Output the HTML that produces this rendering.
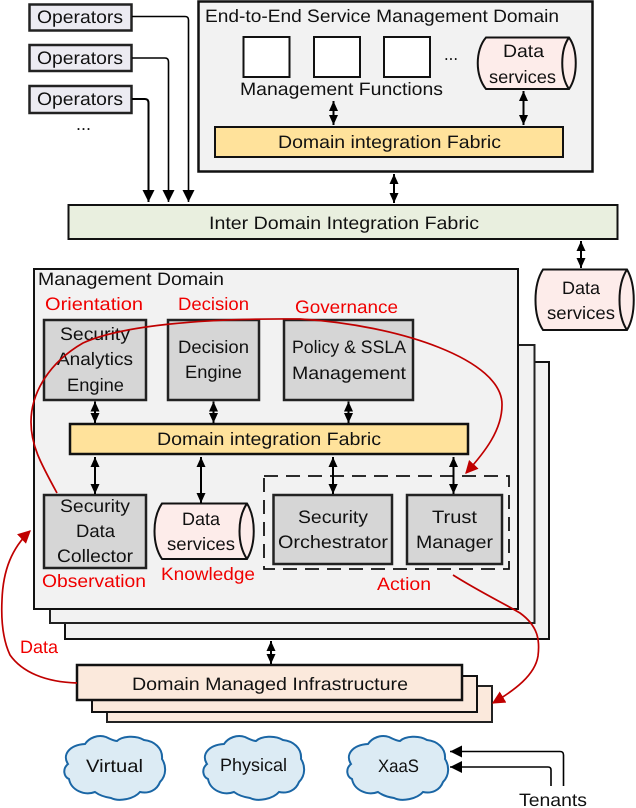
<!DOCTYPE html>
<html>
<head>
<meta charset="utf-8">
<style>
html,body{margin:0;padding:0;background:#fff;}
svg{display:block;}
text{font-family:"Liberation Sans",sans-serif;font-size:18px;fill:#111;text-rendering:geometricPrecision;}
.r{fill:#f00000;}
</style>
</head>
<body>
<svg width="636" height="808" viewBox="0 0 636 808" xmlns="http://www.w3.org/2000/svg">
<defs>
<marker id="d" viewBox="0 0 10 10" refX="10" refY="5" markerWidth="10" markerHeight="10" orient="auto-start-reverse" markerUnits="userSpaceOnUse"><path d="M0 0.5L10 5L0 9.5Z" fill="#000"/></marker>
<marker id="b" viewBox="0 0 10 10" refX="10" refY="5" markerWidth="12" markerHeight="12" orient="auto" markerUnits="userSpaceOnUse"><path d="M0 0L10 5L0 10Z" fill="#000"/></marker>
<marker id="c" viewBox="0 0 10 10" refX="9" refY="5" markerWidth="13" markerHeight="13" orient="auto" markerUnits="userSpaceOnUse"><path d="M0 0L10 5L0 10Z" fill="#c00000"/></marker>
<path id="cl" d="M4 29C-2 20 5 10 21 9C25 3 34 -1 42 2C46 4 50 6 53 6C58 1 72 0 80 5C90 6 99 13 98 24C102 30 103 40 96 47C93 55 85 59 76 57C70 64 55 67 47 63C40 62 35 60 31 57C20 61 7 55 5 44C0 42 -2 34 4 29Z" fill="#dcebf4" stroke="#1a66a5" stroke-width="2"/>
</defs>

<!-- Operators -->
<g fill="#ecebf2" stroke="#222" stroke-width="2.5">
<rect x="29.5" y="4.5" width="102" height="26"/>
<rect x="29.5" y="45" width="102" height="26"/>
<rect x="29.5" y="86" width="102" height="27"/>
</g>
<text x="37" y="23" textLength="86" lengthAdjust="spacingAndGlyphs">Operators</text>
<text x="37" y="64" textLength="86" lengthAdjust="spacingAndGlyphs">Operators</text>
<text x="37" y="105" textLength="86" lengthAdjust="spacingAndGlyphs">Operators</text>
<text x="76" y="130" textLength="15" lengthAdjust="spacingAndGlyphs">...</text>
<g fill="none" stroke="#000" stroke-width="1.6">
<path d="M132 16.500H185Q188.500 16.500 188.500 20V202" marker-end="url(#b)"/>
<path d="M132 58H165Q168.500 58 168.500 62V202" marker-end="url(#b)"/>
<path d="M132 99H145Q148.500 99 148.500 103V202" stroke-width="2" marker-end="url(#b)"/>
</g>

<!-- E2E domain -->
<rect x="198.500" y="1.500" width="394" height="170" fill="#f2f2f2" stroke="#111" stroke-width="2.500"/>
<text x="205" y="22" textLength="354" lengthAdjust="spacingAndGlyphs">End-to-End Service Management Domain</text>
<g fill="#fff" stroke="#111" stroke-width="2">
<rect x="243.500" y="37" width="46" height="40"/>
<rect x="314" y="37" width="46" height="40"/>
<rect x="384" y="37" width="46" height="40"/>
</g>
<text x="444" y="60" textLength="14" lengthAdjust="spacingAndGlyphs">...</text>
<text x="240" y="95" textLength="203" lengthAdjust="spacingAndGlyphs">Management Functions</text>
<path d="M486 37.500H569C578 50 578 76 569 89H486C475 76 475 50 486 37.500Z" fill="#fdecea" stroke="#111" stroke-width="2"/>
<path d="M569 37.500C560 50 560 76 569 89" fill="none" stroke="#111" stroke-width="2"/>
<text x="503" y="57" textLength="41" lengthAdjust="spacingAndGlyphs">Data</text>
<text x="489" y="83" textLength="67" lengthAdjust="spacingAndGlyphs">services</text>
<rect x="215" y="127" width="348" height="30" fill="#ffe29b" stroke="#111" stroke-width="2"/>
<text x="278" y="148" textLength="223" lengthAdjust="spacingAndGlyphs">Domain integration Fabric</text>

<!-- Inter-domain -->
<rect x="68.500" y="205" width="549" height="34" fill="#e9efdf" stroke="#111" stroke-width="2"/>
<text x="209" y="229" textLength="270" lengthAdjust="spacingAndGlyphs">Inter Domain Integration Fabric</text>

<!-- Data services right -->
<path d="M543 269.500H627C636 285 636 315 627 330H543C533 315 533 285 543 269.500Z" fill="#fdecea" stroke="#111" stroke-width="2"/>
<path d="M627 269.500C617 285 617 315 627 330" fill="none" stroke="#111" stroke-width="2"/>
<text x="562" y="294" textLength="38" lengthAdjust="spacingAndGlyphs">Data</text>
<text x="547" y="319" textLength="68" lengthAdjust="spacingAndGlyphs">services</text>

<!-- Management domain stacks -->
<rect x="65" y="362" width="484" height="277" fill="#f2f2f2" stroke="#111" stroke-width="2"/>
<rect x="50" y="345" width="484.500" height="278" fill="#f2f2f2" stroke="#222" stroke-width="2"/>
<rect x="34" y="269" width="484" height="340" fill="#f2f2f2" stroke="#111" stroke-width="2"/>
<text x="38" y="285" textLength="186" lengthAdjust="spacingAndGlyphs">Management Domain</text>
<text class="r" x="45" y="310" textLength="98" lengthAdjust="spacingAndGlyphs">Orientation</text>
<text class="r" x="178" y="310" textLength="71" lengthAdjust="spacingAndGlyphs">Decision</text>
<text class="r" x="295" y="313" textLength="103" lengthAdjust="spacingAndGlyphs">Governance</text>

<g fill="#d6d6d6" stroke="#222" stroke-width="2.500">
<rect x="44" y="320" width="102" height="80"/>
<rect x="168" y="320" width="91" height="80"/>
<rect x="284" y="320" width="129" height="80"/>
<rect x="44" y="495" width="102" height="73"/>
<rect x="273.500" y="495" width="118.500" height="69"/>
<rect x="407" y="495" width="95" height="69"/>
</g>
<text x="60" y="340" textLength="70" lengthAdjust="spacingAndGlyphs">Security</text>
<text x="57" y="365" textLength="76" lengthAdjust="spacingAndGlyphs">Analytics</text>
<text x="67" y="391" textLength="57" lengthAdjust="spacingAndGlyphs">Engine</text>
<text x="178" y="353" textLength="71" lengthAdjust="spacingAndGlyphs">Decision</text>
<text x="185" y="378" textLength="57" lengthAdjust="spacingAndGlyphs">Engine</text>
<text x="292" y="353" textLength="114" lengthAdjust="spacingAndGlyphs">Policy &amp; SSLA</text>
<text x="292" y="379" textLength="114" lengthAdjust="spacingAndGlyphs">Management</text>
<rect x="70" y="424" width="398" height="30" fill="#ffe29b" stroke="#111" stroke-width="2.500"/>
<text x="157" y="445" textLength="224" lengthAdjust="spacingAndGlyphs">Domain integration Fabric</text>
<text x="60" y="512" textLength="70" lengthAdjust="spacingAndGlyphs">Security</text>
<text x="76" y="537" textLength="39" lengthAdjust="spacingAndGlyphs">Data</text>
<text x="57" y="562" textLength="76" lengthAdjust="spacingAndGlyphs">Collector</text>
<path d="M162 503.500H247C256 518 256 544 247 559H162C152 544 152 518 162 503.500Z" fill="#fdecea" stroke="#111" stroke-width="2"/>
<path d="M247 503.500C237 518 237 544 247 559" fill="none" stroke="#111" stroke-width="2"/>
<text x="182" y="525" textLength="38" lengthAdjust="spacingAndGlyphs">Data</text>
<text x="167" y="550" textLength="68" lengthAdjust="spacingAndGlyphs">services</text>
<rect x="264" y="476" width="245" height="93" fill="none" stroke="#111" stroke-width="1.800" stroke-dasharray="14 8"/>
<text x="298" y="523" textLength="70" lengthAdjust="spacingAndGlyphs">Security</text>
<text x="278" y="548" textLength="110" lengthAdjust="spacingAndGlyphs">Orchestrator</text>
<text x="432" y="523" textLength="45" lengthAdjust="spacingAndGlyphs">Trust</text>
<text x="416" y="548" textLength="77" lengthAdjust="spacingAndGlyphs">Manager</text>
<text class="r" x="42" y="587" textLength="104" lengthAdjust="spacingAndGlyphs">Observation</text>
<text class="r" x="161" y="580" textLength="94" lengthAdjust="spacingAndGlyphs">Knowledge</text>
<text class="r" x="377" y="590" textLength="54" lengthAdjust="spacingAndGlyphs">Action</text>
<text class="r" x="20" y="653" textLength="38" lengthAdjust="spacingAndGlyphs">Data</text>

<!-- Infrastructure -->
<rect x="107" y="686" width="385" height="36" fill="#fbe9dc" stroke="#222" stroke-width="2"/>
<rect x="92" y="676" width="385" height="36" fill="#fbe9dc" stroke="#111" stroke-width="2"/>
<rect x="77" y="665" width="385" height="35" fill="#fbe9dc" stroke="#111" stroke-width="2.500"/>
<text x="132" y="690" textLength="276" lengthAdjust="spacingAndGlyphs">Domain Managed Infrastructure</text>

<!-- Clouds -->
<use href="#cl" transform="translate(64,735)"/>
<use href="#cl" transform="translate(203,735)"/>
<use href="#cl" transform="translate(347,735)"/>
<text x="86" y="772" textLength="57" lengthAdjust="spacingAndGlyphs">Virtual</text>
<text x="220" y="771" textLength="67" lengthAdjust="spacingAndGlyphs">Physical</text>
<text x="378" y="772" textLength="41" lengthAdjust="spacingAndGlyphs">XaaS</text>
<text x="519" y="806" textLength="68" lengthAdjust="spacingAndGlyphs">Tenants</text>

<!-- Tenants connectors -->
<g fill="none" stroke="#000" stroke-width="1.600">
<path d="M563.500 786V755Q563.500 751.500 560 751.500H450" marker-end="url(#b)"/>
<path d="M551 786V770Q551 767 548 767H450" marker-end="url(#b)"/>
</g>

<!-- Double arrows -->
<g fill="none" stroke="#000" stroke-width="2">
<path d="M333.500 101V125" marker-start="url(#d)" marker-end="url(#d)"/>
<path d="M523.500 91V125" marker-start="url(#d)" marker-end="url(#d)"/>
<path d="M394 174V203" marker-start="url(#d)" marker-end="url(#d)"/>
<path d="M581 241V268" marker-start="url(#d)" marker-end="url(#d)"/>
<path d="M95 401.500V423" marker-start="url(#d)" marker-end="url(#d)"/>
<path d="M213.500 401.500V423" marker-start="url(#d)" marker-end="url(#d)"/>
<path d="M348.500 401.500V423" marker-start="url(#d)" marker-end="url(#d)"/>
<path d="M95 457V494" marker-start="url(#d)" marker-end="url(#d)"/>
<path d="M201 457V503" marker-start="url(#d)" marker-end="url(#d)"/>
<path d="M333 457V494" marker-start="url(#d)" marker-end="url(#d)"/>
<path d="M453.500 457V494" marker-start="url(#d)" marker-end="url(#d)"/>
<path d="M271 641V664" marker-start="url(#d)" marker-end="url(#d)"/>
</g>

<!-- Red curves -->
<g fill="none" stroke="#c00000" stroke-width="1.700">
<path d="M57 493C40 462 31 445 31 422C31 392 50 362 83 343C120 326 200 318 300 319C400 325 503 360 502 405C502 430 485 452 466 473" marker-end="url(#c)"/>
<path d="M77 683C45 682 22 672 10 655C3 640 1 620 2 600C3 570 12 548 30 531" marker-end="url(#c)"/>
<path d="M453 575C480 592 505 604 520 613C538 626 540 640 538 656C535 675 515 690 493 703" marker-end="url(#c)"/>
</g>
</svg>
</body>
</html>
